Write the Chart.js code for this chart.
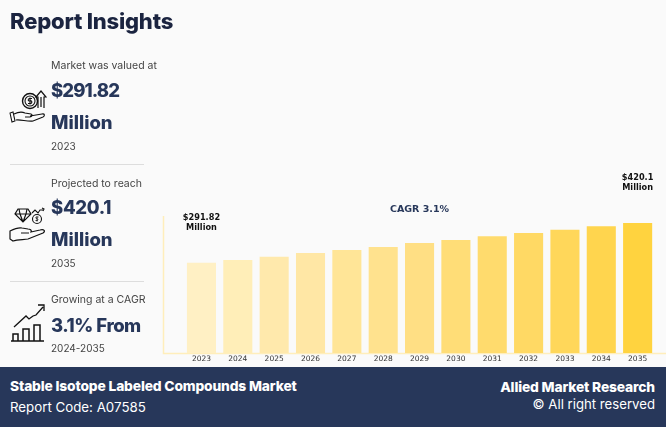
<!DOCTYPE html>
<html><head><meta charset="utf-8">
<script src="https://cdn.jsdelivr.net/npm/chart.js@4/dist/chart.umd.min.js"></script>
<style>
html,body{margin:0;padding:0;background:#fafafa;width:666px;height:427px;overflow:hidden}
body{position:relative;font-family:Inter,"Open Sans",sans-serif}
.t{position:absolute;white-space:nowrap;line-height:1}
#c{position:absolute;left:0;top:0;width:666px;height:427px}
.h{font-weight:800;color:#27375a;font-size:18.5px}
.s{color:#444;font-size:10.5px}
.y{color:#444;font-size:10px}
hr{position:absolute;left:10px;width:134px;margin:0;border:0;border-top:1px solid #ddd}
#f{position:absolute;left:0;top:367px;width:666px;height:60px;background:#27375a}
svg{position:absolute;fill:none;stroke:#111;stroke-width:1.1}
</style></head><body>
<canvas id="c" width="666" height="427"></canvas>
<div class="t" style="left:10px;top:10px;font-size:22px;font-weight:800;color:#1b2440;letter-spacing:-.2px">Report Insights</div>
<div class="t s" style="left:51px;top:61px">Market was valued at</div>
<div class="t h" style="left:51px;top:81px;letter-spacing:-.9px">$291.82</div>
<div class="t h" style="left:51px;top:113px">Million</div>
<div class="t y" style="left:51px;top:141px">2023</div>
<hr style="top:164px">
<div class="t s" style="left:51px;top:179px">Projected to reach</div>
<div class="t h" style="left:51px;top:198px;letter-spacing:-.3px">$420.1</div>
<div class="t h" style="left:51px;top:230px">Million</div>
<div class="t y" style="left:51px;top:258px">2035</div>
<hr style="top:281px">
<div class="t s" style="left:51px;top:295px">Growing at a CAGR</div>
<div class="t h" style="left:51px;top:316px;letter-spacing:-.5px">3.1% From</div>
<div class="t y" style="left:51px;top:343px">2024-2035</div>
<svg style="left:9px;top:86px" width="38" height="40" viewBox="0 0 38 40"><circle cx="21" cy="15" r="7.500" stroke-width="1.4"/><circle cx="21" cy="15" r="5"/><path d="M19 17.500h3c1.500-1 1-3-1-2.500s-2.500-2-.5-2.500h2.500M21 11.500v7"/><path d="M29 22V11h-2l5-6 5 6h-2v11M32 11v10" stroke-width="1.2"/><path d="M1 27l2 9 3-1-2-9zM5 28c4-2 8-2.500 11-1l6 1c2 1 1 3-1 3h-5M21 30l12-2c3-.5 3 2 1 3l-10 4c-5 1-13-2-17-1"/></svg>
<svg style="left:9px;top:205px" width="38" height="40" viewBox="0 0 38 40"><path d="M9 4h10l3 5-8 8-8-8zM6 9h16M11 9l3 8M17 9l-3 8M10 4l1 5M18 4l-1 5" stroke-width="1.2"/><path d="M23 8l3-3 3 3 2-3h3M33 3l2 1-1 2"/><circle cx="28" cy="14" r="4.500"/><path d="M28 11.500v5M26.500 15.500h2c1-1 0-2-1-2s-1-1.500 0-1.500h2" stroke-width=".8"/><path d="M1 26v8l3 2c5-2 11-1 15-2l15-6c3-2 1-4-3-3l-9 2c1-2-1-3-3-3l-6-1c-4-1-8 1-12 3zM12 28h8" stroke-width="1.200"/></svg>
<svg style="left:10px;top:301px" width="36" height="42" viewBox="0 0 36 42"><path d="M1 40h33M3 40V33h5v7M13 40V28h6v12M24 40V24h6v16" stroke-width="1.500"/><path d="M4 26L16 15l3 3 4-3 3-1 7-8M28 4h6v6" stroke-width="1.300"/></svg>
<div id="f"></div>
<div class="t" style="left:10px;top:380px;font-size:13.8px;font-weight:800;color:#fff;letter-spacing:-.15px">Stable Isotope Labeled Compounds Market</div>
<div class="t" style="left:10px;top:401px;font-size:13.3px;color:#fff">Report Code: A07585</div>
<div class="t" style="right:11px;top:381px;font-size:13.8px;font-weight:800;color:#fff;letter-spacing:-.15px">Allied Market Research</div>
<div class="t" style="right:11px;top:398px;font-size:13.2px;color:#fff">© All right reserved</div>
<script>
const years = ["2023","2024","2025","2026","2027","2028","2029","2030","2031","2032","2033","2034","2035"];
const marketValues = [291.82,300.5,311,323,333,342.5,355.4,365,377,388,398.4,409.4,420.1];
const barColors = ["#fff0c4","#ffeeb8","#ffe9ac","#ffe7a5","#ffe597","#ffe28e","#ffdf84","#ffdd77","#ffdb6d","#ffd964","#ffd75a","#ffd54e","#ffd33f"];
const startLabel = ["$291.82","Million"];
const endLabel = ["$420.1","Million"];
const cagrLabel = "CAGR 3.1%";

const overlay = {
  id:"overlay",
  beforeDatasetsDraw(ch){
    const g=ch.ctx, y=ch.scales.y, b=y.getPixelForValue(0);
    g.save();
    g.strokeStyle="#ffeebb"; g.lineWidth=1.5;
    g.beginPath(); g.moveTo(163.5,y.getPixelForValue(442.6)); g.lineTo(163.5,b+0.5); g.lineTo(666,b+0.5); g.stroke();
    g.restore();
  },
  afterDatasetsDraw(ch){
    const g=ch.ctx, x=ch.scales.x, y=ch.scales.y;
    g.save();
    g.textAlign="center"; g.textBaseline="middle";
    g.font="bold 8.2px 'DejaVu Sans'"; g.fillStyle="#111";
    const last=years.length-1;
    startLabel.forEach((s,i)=>g.fillText(s,x.getPixelForValue(0),y.getPixelForValue(marketValues[0])-44.5+i*9.5));
    endLabel.forEach((s,i)=>g.fillText(s,x.getPixelForValue(last),y.getPixelForValue(marketValues[last])-45+i*9.5));
    g.font="bold 9.5px 'DejaVu Sans'"; g.fillStyle="#27375a";
    g.fillText(cagrLabel,419.500,209.500);
    g.restore();
  }
};
new Chart(document.getElementById("c"),{
  type:"bar",
  data:{labels:years,datasets:[{data:marketValues,backgroundColor:barColors,barPercentage:0.8,categoryPercentage:1}]},
  options:{
    responsive:false,animation:false,
    devicePixelRatio:1,
    layout:{padding:{left:183.3,right:10.2,top:216,bottom:60}},
    plugins:{legend:{display:false},tooltip:{enabled:false}},
    scales:{
      x:{grid:{display:false,drawTicks:false},border:{display:false},
         afterFit(s){s.height=14;},
         ticks:{font:{family:"DejaVu Sans",size:7.5},color:"#333",padding:1.5,maxRotation:0,autoSkip:false}},
      y:{display:false,min:0,max:442.6}
    }
  },
  plugins:[overlay]
});
</script>
</body></html>
